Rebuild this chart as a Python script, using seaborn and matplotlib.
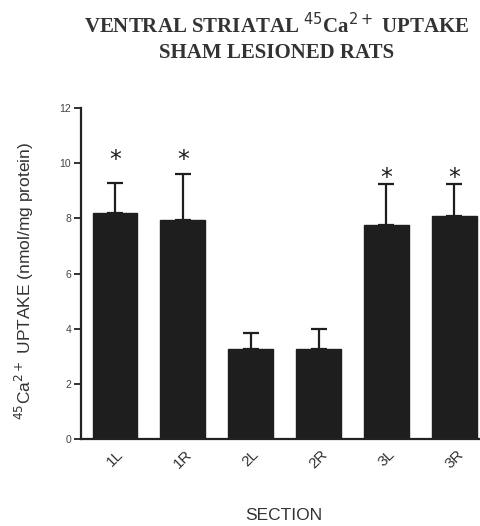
import matplotlib
matplotlib.use("Agg")
import matplotlib.pyplot as plt
import seaborn as sns
import pandas as pd
import numpy as np

sections = ["1L", "1R", "2L", "2R", "3L", "3R"]
uptake = [8.2, 7.95, 3.27, 3.27, 7.75, 8.08]
sem_upper = [1.08, 1.65, 0.57, 0.71, 1.49, 1.16]
significant = [True, True, False, False, True, True]
star_y = [10.1, 10.1, None, None, 9.45, 9.45]
yticks = [0, 2, 4, 6, 8, 10, 12]

sns.set_theme(style="ticks")
plt.rcParams['font.family'] = ['Liberation Sans', 'DejaVu Sans']

df = pd.DataFrame({"section": sections, "uptake": uptake})

fig = plt.figure(figsize=(4.8, 5.26), dpi=100)
ax = fig.add_axes([81/480, 87/526, 399/480, 331/526])

sns.barplot(data=df, x="section", y="uptake", color="#1e1e1e", width=0.66,
            saturation=1, edgecolor="#1e1e1e", ax=ax, errorbar=None)

x = np.arange(len(sections))
ax.errorbar(x, uptake, yerr=[np.zeros(len(uptake)), sem_upper], fmt="none",
            ecolor="#1e1e1e", elinewidth=1.6, capsize=6, capthick=1.6, zorder=3)

for xi, sig, sy in zip(x, significant, star_y):
    if sig:
        ax.text(xi, sy, "*", ha="center", va="center", fontsize=17,
                color="#1e1e1e", family="DejaVu Sans")

ax.set_xlim(-0.5, 5.38)
ax.set_ylim(0, 12)
ax.set_yticks(yticks)
ax.set_yticklabels([str(t) for t in yticks], fontsize=7.5, color="#444444")
ax.set_xticks(x)
ax.set_xticklabels(sections, rotation=45, fontsize=11, color="#333333",
                   ha="center", va="top")
ax.tick_params(axis="x", length=0, pad=6)
ax.tick_params(axis="y", length=5, width=1.3, color="#222222", pad=2)
sns.despine(ax=ax)
for s in ["left", "bottom"]:
    ax.spines[s].set_linewidth(1.6)
    ax.spines[s].set_color("#222222")

ax.set_xlabel("")
ax.set_ylabel("")
fig.text(284/480, 1 - 515/526, "SECTION", ha="center", va="center",
         fontsize=12.5, color="#333333")
fig.text(24/480, 1 - 281/526, r"$^{45}$Ca$^{2+}$ UPTAKE (nmol/mg protein)",
         rotation=90, ha="center", va="center", fontsize=12.5, color="#333333")

fig.text(277/480, 1 - 26/526, r"VENTRAL STRIATAL $^{45}$Ca$^{2+}$ UPTAKE",
         ha="center", va="center", fontsize=15, fontweight="bold",
         family=["Liberation Serif", "DejaVu Serif"], color="#333333")
fig.text(277/480, 1 - 53/526, "SHAM LESIONED RATS",
         ha="center", va="center", fontsize=15, fontweight="bold",
         family=["Liberation Serif", "DejaVu Serif"], color="#333333")

fig.savefig("out.png", dpi=100)
